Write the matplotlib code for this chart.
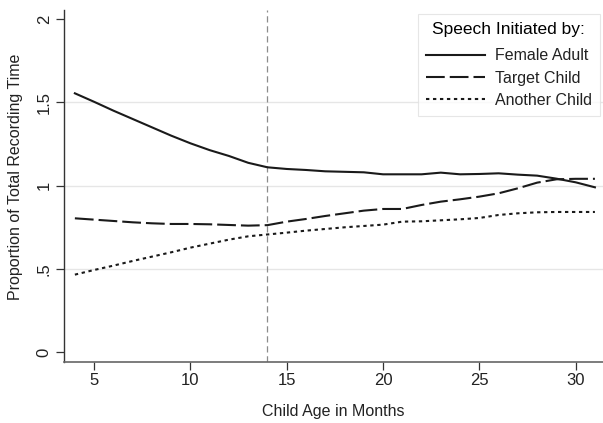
import matplotlib
matplotlib.use('Agg')
import matplotlib.pyplot as plt

plt.rcParams['font.family'] = ['Liberation Sans', 'DejaVu Sans']

# data
months = list(range(4, 32))
female_adult = [1.554, 1.503, 1.450, 1.400, 1.350, 1.300, 1.254, 1.213, 1.178, 1.137,
                1.110, 1.100, 1.094, 1.086, 1.083, 1.080, 1.068, 1.068, 1.068, 1.078,
                1.068, 1.070, 1.074, 1.066, 1.060, 1.042, 1.020, 0.990]
target_child = [0.804, 0.796, 0.788, 0.780, 0.774, 0.770, 0.770, 0.768, 0.764, 0.760,
                0.763, 0.784, 0.800, 0.818, 0.834, 0.850, 0.860, 0.860, 0.884, 0.904,
                0.918, 0.934, 0.954, 0.984, 1.018, 1.038, 1.041, 1.041]
another_child = [0.466, 0.494, 0.520, 0.548, 0.574, 0.600, 0.628, 0.652, 0.676, 0.696,
                 0.707, 0.718, 0.730, 0.740, 0.750, 0.758, 0.766, 0.784, 0.786, 0.792,
                 0.798, 0.806, 0.824, 0.834, 0.840, 0.842, 0.842, 0.842]

yticks = [0, 0.5, 1, 1.5, 2]
ytick_labels = ['0', '.5', '1', '1.5', '2']
xticks = [5, 10, 15, 20, 25, 30]

fig = plt.figure(figsize=(6.03, 4.23), dpi=100)
ax = fig.add_axes([0.1066, 0.1435, 0.8934, 0.8325])

# light grid at the inner ticks
for g in [0.5, 1, 1.5]:
    ax.axhline(g, color='#e6e6e6', lw=1.0, zorder=0)

ax.axvline(14, color='#8c8c8c', lw=0.9, dashes=(5, 3), zorder=1)

ax.plot(months, female_adult, color='#1a1a1a', lw=1.5, label='Female Adult')
ax.plot(months, target_child, color='#1a1a1a', lw=1.5, dashes=(9, 2.4), label='Target Child')
ax.plot(months, another_child, color='#1a1a1a', lw=1.5, dashes=(1.6, 1.75), label='Another Child')

ax.set_xlim(3.45, 31.42)
ax.set_ylim(-0.06, 2.053)
ax.set_xticks(xticks)
ax.set_yticks(yticks)
ax.set_yticklabels(ytick_labels, rotation=90, va='center')
ax.tick_params(axis='both', direction='out', length=6, width=0.9, colors='#333333',
               labelsize=12, labelcolor='#222222')
ax.tick_params(axis='x', pad=2)
ax.tick_params(axis='y', pad=3)

for side in ['top', 'right']:
    ax.spines[side].set_visible(False)
ax.spines['left'].set_color('#333333')
ax.spines['bottom'].set_color('#666666')
ax.spines['left'].set_linewidth(1.0)
ax.spines['bottom'].set_linewidth(1.2)

ax.set_xlabel('Child Age in Months', fontsize=11.5, color='#222222', labelpad=11)
ax.set_ylabel('Proportion of Total Recording Time', fontsize=11.5, color='#222222')
ax.yaxis.set_label_coords(-0.0757, 0.526)

leg = ax.legend(title='Speech Initiated by:', loc='upper right',
                bbox_to_anchor=(600 / 603, (423 - 14) / 423), bbox_transform=fig.transFigure,
                borderaxespad=0, fontsize=11.5, title_fontsize=12.5, frameon=True,
                fancybox=False, edgecolor='#e0e0e0', handlelength=3.75, handletextpad=0.6,
                labelspacing=0.45, borderpad=0.5)
leg.get_frame().set_linewidth(0.8)
leg._legend_box.sep += 3  # a bit more room under the title
for t in leg.get_texts():
    t.set_color('#222222')

fig.savefig('out.png', dpi=100)
